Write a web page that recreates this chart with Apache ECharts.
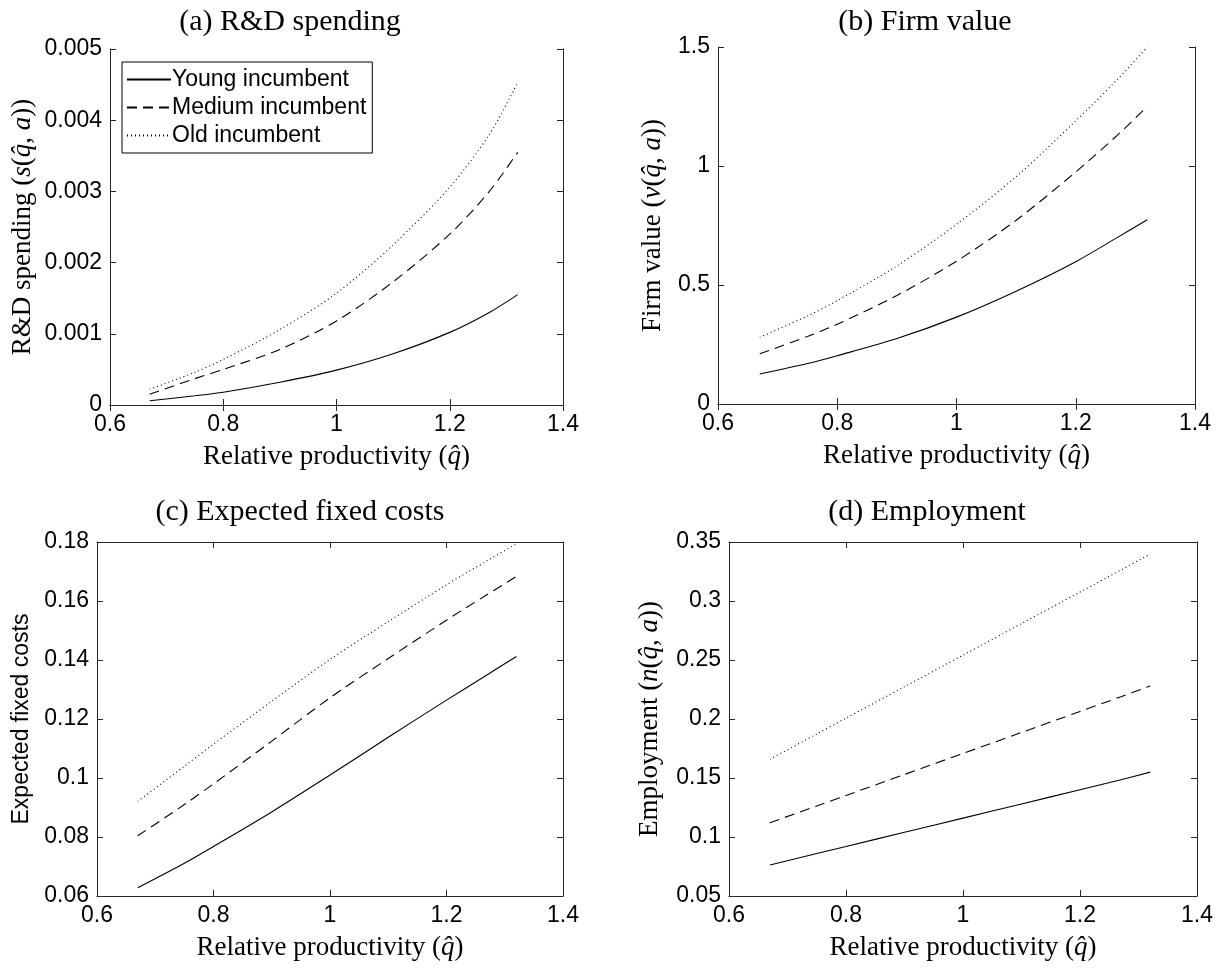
<!DOCTYPE html>
<html>
<head>
<meta charset="utf-8">
<script src="https://cdn.jsdelivr.net/npm/echarts@6/dist/echarts.min.js"></script>
<style>
  html, body { margin: 0; padding: 0; background: #fff; }
  #chart { width: 1224px; height: 970px; }
</style>
</head>
<body>
<div id="chart"></div>
<script>
// relative productivity grid (same for every panel)
const qHat = [0.67, 0.75, 0.8, 0.9, 1.0, 1.1, 1.2, 1.27, 1.32];
const xTicks = { min: 0.6, max: 1.4, interval: 0.2 };

// (a) R&D spending
const rdYoung  = [0.00006, 0.00013, 0.00018, 0.00032, 0.00049, 0.00072, 0.00102, 0.0013, 0.00155];
const rdMedium = [0.00015, 0.00037, 0.0005, 0.00078, 0.00118, 0.00173, 0.0024, 0.003, 0.00355];
const rdOld    = [0.00022, 0.00046, 0.00064, 0.00106, 0.00157, 0.00225, 0.00306, 0.0038, 0.00453];

// (b) firm value
const fvYoung  = [0.126, 0.17, 0.203, 0.275, 0.365, 0.474, 0.598, 0.7, 0.774];
const fvMedium = [0.211, 0.284, 0.335, 0.456, 0.6, 0.772, 0.975, 1.13, 1.25];
const fvOld    = [0.28, 0.37, 0.434, 0.58, 0.755, 0.955, 1.19, 1.364, 1.5];

// (c) expected fixed costs
const fcYoung  = [0.0628, 0.0711, 0.0768, 0.0885, 0.101, 0.1138, 0.1264, 0.135, 0.1412];
const fcMedium = [0.0804, 0.091, 0.098, 0.1125, 0.1272, 0.1405, 0.1535, 0.1622, 0.1683];
const fcOld    = [0.0921, 0.104, 0.1115, 0.126, 0.1402, 0.153, 0.1655, 0.1737, 0.1794];

// (d) employment
const emYoung  = [0.0763, 0.086, 0.092, 0.104, 0.116, 0.128, 0.14, 0.1485, 0.155];
const emMedium = [0.1121, 0.1263, 0.1352, 0.153, 0.1708, 0.1886, 0.2064, 0.2189, 0.228];
const emOld    = [0.1659, 0.1873, 0.2007, 0.2274, 0.2541, 0.2809, 0.3076, 0.3263, 0.3397];

const names = ['Young incumbent', 'Medium incumbent', 'Old incumbent'];
const dashes = ['solid', [10, 6], [1, 3]];

const panels = [
  { title: '(a) R&D spending', tx: 285, ty: 2,
    grid: { left: 110, top: 49, width: 453, height: 356 },
    y: { min: 0, max: 0.005, interval: 0.001 },
    yName: 'R&D spending ({i|s}({i|q̂}, {i|a}))', ySerif: true, gap: 74,
    data: [rdYoung, rdMedium, rdOld] },
  { title: '(b) Firm value', tx: 920, ty: 2,
    grid: { left: 718, top: 47, width: 477, height: 357 },
    y: { min: 0, max: 1.5, interval: 0.5 },
    yName: 'Firm value ({i|v}({i|q̂}, {i|a}))', ySerif: true, gap: 52,
    data: [fvYoung, fvMedium, fvOld] },
  { title: '(c) Expected fixed costs', tx: 295, ty: 492,
    grid: { left: 97, top: 542, width: 466, height: 354 },
    y: { min: 0.06, max: 0.18, interval: 0.02 },
    yName: 'Expected fixed costs', ySerif: false, gap: 64,
    data: [fcYoung, fcMedium, fcOld] },
  { title: '(d) Employment', tx: 922, ty: 492,
    grid: { left: 729, top: 542, width: 468, height: 354 },
    y: { min: 0.05, max: 0.35, interval: 0.05 },
    yName: 'Employment ({i|n}({i|q̂}, {i|a}))', ySerif: true, gap: 66,
    data: [emYoung, emMedium, emOld] }
];

const axisColor = '#262626';
const sans = 'Liberation Sans, Arial, sans-serif';
const serif = 'Liberation Serif, Times New Roman, serif';
const italic = { fontFamily: serif, fontStyle: 'italic', fontSize: 27 };

const titles = [], grids = [], xAxes = [], yAxes = [], series = [];

panels.forEach(function (p, i) {
  titles.push({
    text: p.title, left: p.tx, top: p.ty, textAlign: 'center',
    textStyle: { fontFamily: serif, fontWeight: 'normal', fontSize: 30, color: '#000' }
  });
  grids.push(Object.assign({ containLabel: false }, p.grid));

  const line = { show: true, lineStyle: { color: axisColor, width: 1 } };
  // bottom x axis with labels
  xAxes.push(Object.assign({
    type: 'value', gridIndex: i, position: 'bottom',
    axisLine: line,
    axisTick: { inside: true, length: 6, lineStyle: { color: axisColor } },
    axisLabel: { fontFamily: sans, fontSize: 23, color: '#000', margin: 8 },
    splitLine: { show: false },
    name: 'Relative productivity ({i|q̂})', nameLocation: 'middle', nameGap: 38,
    nameTextStyle: { fontFamily: serif, fontSize: 27, color: '#000', rich: { i: italic } }
  }, xTicks));
  // left y axis with labels
  yAxes.push(Object.assign({
    type: 'value', gridIndex: i, position: 'left',
    axisLine: line,
    axisTick: { inside: true, length: 6, lineStyle: { color: axisColor } },
    axisLabel: { fontFamily: sans, fontSize: 23, color: '#000', margin: 8 },
    splitLine: { show: false },
    name: p.yName, nameLocation: 'middle', nameGap: p.gap,
    nameTextStyle: {
      fontFamily: p.ySerif ? serif : sans, fontSize: p.ySerif ? 27 : 23,
      color: '#000', rich: { i: italic }
    }
  }, p.y));

  p.data.forEach(function (vals, k) {
    series.push({
      name: names[k], type: 'line', xAxisIndex: i, yAxisIndex: i,
      data: qHat.map(function (q, j) { return [q, vals[j]]; }),
      symbol: 'none', smooth: 0.3, clip: true,
      lineStyle: { color: '#000', width: 1.1, type: dashes[k] },
      itemStyle: { color: '#000' }
    });
  });
});

// top / right mirror axes to close the box
panels.forEach(function (p, i) {
  const line = { show: true, lineStyle: { color: axisColor, width: 1 } };
  xAxes.push(Object.assign({
    type: 'value', gridIndex: i, position: 'top', axisLine: line,
    axisTick: { inside: true, length: 6, lineStyle: { color: axisColor } },
    axisLabel: { show: false }, splitLine: { show: false }
  }, xTicks));
  yAxes.push(Object.assign({
    type: 'value', gridIndex: i, position: 'right', axisLine: line,
    axisTick: { inside: true, length: 6, lineStyle: { color: axisColor } },
    axisLabel: { show: false }, splitLine: { show: false }
  }, p.y));
});

const chart = echarts.init(document.getElementById('chart'));
chart.setOption({
  animation: false,
  backgroundColor: '#fff',
  title: titles,
  legend: {
    data: names, orient: 'vertical', left: 122, top: 62,
    itemWidth: 44, itemHeight: 16, itemGap: 5,
    padding: [6, 6, 6, 4],
    borderColor: '#000', borderWidth: 1, backgroundColor: '#fff',
    itemStyle: { color: 'rgba(0,0,0,0)', borderWidth: 0 },
    textStyle: { fontFamily: sans, fontSize: 23, color: '#000', padding: [0, 0, 0, -4] }
  },
  grid: grids,
  xAxis: xAxes,
  yAxis: yAxes,
  series: series
});
</script>
</body>
</html>
